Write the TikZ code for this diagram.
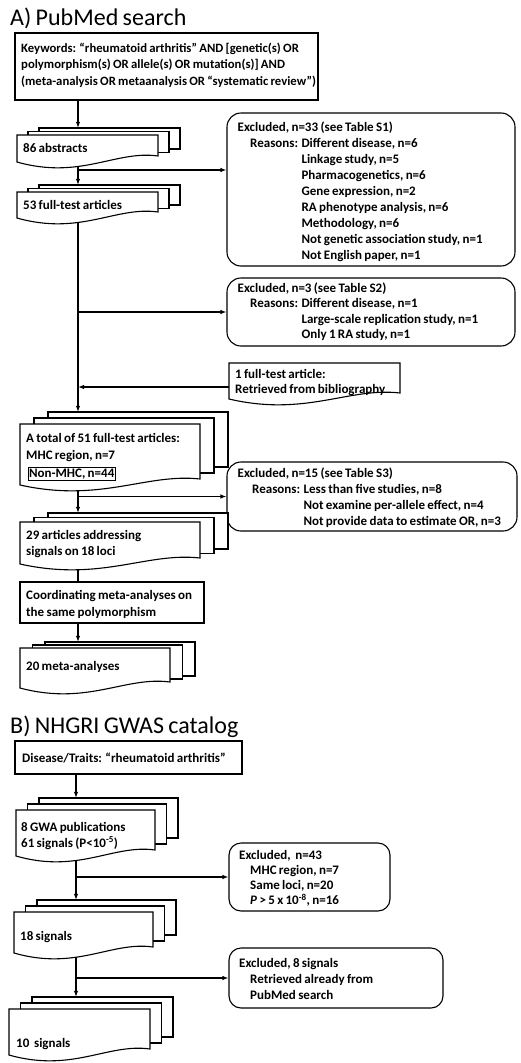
\documentclass[tikz,border=0pt]{standalone}
\usepackage{fontspec}
\setmainfont{Carlito}[WordSpace=0.8]
\usetikzlibrary{arrows.meta,fit,backgrounds}
\tikzset{
  ln/.style={line width=1.1pt, draw=black},
  sheet/.style={ln, fill=white},
  arr/.style={ln, -{Latex[length=6pt,width=4.5pt]}},
  plainbox/.style={ln, fill=white, inner sep=0pt},
  exbox/.style={ln, fill=white, inner sep=0pt, rounded corners=14pt},
  area/.style={inner sep=0pt},
  txt/.style={anchor=base west, inner sep=0pt, font=\bfseries\fontsize{13}{16}\selectfont},
  ttl/.style={anchor=base west, inner sep=0pt, font=\fontsize{24}{28}\selectfont},
  hl/.style={ln, line width=0.8pt, inner sep=1.2pt, anchor=base west, font=\bfseries\fontsize{13}{16}\selectfont},
}
% front sheet with wavy bottom: #1 name, #2 L, #3 T, #4 R, #5 B
\newcommand{\docfront}[5]{%
  \draw[sheet] (#2,#3) -- (#4,#3) -- (#4,{#5-6})
    .. controls ({#2+0.7*(#4-#2)},{#5-12}) and ({#2+0.45*(#4-#2)},{#5+18}) .. (#2,#5) -- cycle;
  \node[area, fit={(#2,#3) (#4,#5)}] (#1) {};
}
% stack of three sheets: #1 name, #2 L, #3 T, #4 R, #5 B, #6 dx, #7 dy
\newcommand{\docstack}[7]{%
  \draw[sheet] ({#2+2*#6},{#3-2*#7}) rectangle ({#4+2*#6},{#5-2*#7-6});
  \node[area, fit={({#2+2*#6},{#3-2*#7}) ({#4+2*#6},{#5-2*#7-6})}] (#1-back) {};
  \draw[sheet] ({#2+#6},{#3-#7}) rectangle ({#4+#6},{#5-#7-6});
  \docfront{#1}{#2}{#3}{#4}{#5}
}
\begin{document}
\begin{tikzpicture}[x=1pt,y=-1pt]
\useasboundingbox (0,0) rectangle (520,1063);
\coordinate (mA) at (78,0);
\coordinate (mB) at (76,0);

% ---------------- A) PubMed search ----------------
\node[ttl] (titleA) at (10,25.5) {A) PubMed search};

\node[plainbox, fit={(15,33) (318,100)}] (kw) {};
\node[txt] (kwtext) at (21,52) {\fontsize{12.7}{16.5}\selectfont\begin{tabular}[t]{@{}l@{}}%
Keywords: “rheumatoid arthritis” AND [genetic(s) OR\\
polymorphism(s) OR allele(s) OR mutation(s)] AND\\
(meta-analysis OR metaanalysis OR “systematic review”)\end{tabular}};

\docstack{S1}{17}{135}{158}{162}{11}{3.5}
\node[txt] (S1text) at (23,152.5) {86 abstracts};

\docstack{S2}{17}{192}{158}{218}{11}{3.5}
\node[txt] (S2text) at (23,209.5) {53 full-test articles};

\node[exbox, fit={(227,113) (515,266)}] (ex1) {};
\node[txt] (ex1head) at (237.5,131.5) {Excluded, n=33 (see Table S1)};
\node[txt] (ex1body) at (250,147.5) {\begin{tabular}[t]{@{}l@{ }l@{}}%
Reasons: & Different disease, n=6\\
 & Linkage study, n=5\\
 & Pharmacogenetics, n=6\\
 & Gene expression, n=2\\
 & RA phenotype analysis, n=6\\
 & Methodology, n=6\\
 & Not genetic association study, n=1\\
 & Not English paper, n=1\end{tabular}};

\node[exbox, fit={(227,278) (515,346)}] (ex2) {};
\node[txt] (ex2head) at (237.5,292) {Excluded, n=3 (see Table S2)};
\node[txt] (ex2body) at (250,307.5) {\fontsize{13}{15.5}\selectfont\begin{tabular}[t]{@{}l@{ }l@{}}%
Reasons: & Different disease, n=1\\
 & Large-scale replication study, n=1\\
 & Only 1 RA study, n=1\end{tabular}};

\docfront{box3}{229}{363}{400}{399}
\node[txt] (box3text) at (235,378.5) {\fontsize{13}{15}\selectfont\begin{tabular}[t]{@{}l@{}}%
1 full-test article:\\ Retrieved from bibliography\end{tabular}};

\docstack{S3}{20}{424}{200}{485}{14}{6}
\node[txt] (S3text) at (26,442.5) {\fontsize{13}{17}\selectfont\begin{tabular}[t]{@{}l@{}}%
A total of 51 full-test articles:\\ MHC region, n=7\end{tabular}};
\node[hl] (nonmhc) at (27.5,477) {Non-MHC, n=44};

\node[exbox, fit={(227,462) (517,531)}] (ex4) {};
\node[txt] (ex4head) at (237.5,477.5) {Excluded, n=15 (see Table S3)};
\node[txt] (ex4body) at (252,493.5) {\begin{tabular}[t]{@{}l@{ }l@{}}%
Reasons: & Less than five studies, n=8\\
 & Not examine per-allele effect, n=4\\
 & Not provide data to estimate OR, n=3\end{tabular}};

\docstack{S4}{20}{522}{200}{564}{14}{4.5}
\node[txt] (S4text) at (26,539.5) {\begin{tabular}[t]{@{}l@{}}%
29 articles addressing\\ signals on 18 loci\end{tabular}};

\node[plainbox, fit={(20,582) (204,623)}] (box5) {};
\node[txt] (box5text) at (26,599.5) {\fontsize{13}{16.5}\selectfont\begin{tabular}[t]{@{}l@{}}%
Coordinating meta-analyses on\\ the same polymorphism\end{tabular}};

\docstack{S5}{20}{648}{170}{688}{12.5}{3}
\node[txt] (S5text) at (26,670.5) {20 meta-analyses};

% ---------------- B) NHGRI GWAS catalog ----------------
\node[ttl] (titleB) at (10,733) {B) NHGRI GWAS catalog};

\node[plainbox, fit={(15,741) (242,774)}] (box6) {};
\node[txt] (box6text) at (22,762.5) {Disease/Traits: “rheumatoid arthritis”};

\docstack{S6}{16}{810}{155}{856}{11.5}{6}
\node[txt] (S6text) at (21,831.5) {\fontsize{13}{15.5}\selectfont\begin{tabular}[t]{@{}l@{}}%
8 GWA publications\\ 61 signals (P<10\textsuperscript{-5})\end{tabular}};

\node[exbox, rounded corners=12pt, fit={(229,843) (390,911)}] (ex7) {};
\node[txt] (ex7head) at (239,859) {Excluded,\ \ n=43};
\node[txt] (ex7body) at (250,874.5) {\fontsize{13}{15}\selectfont\begin{tabular}[t]{@{}l@{}}%
MHC region, n=7\\ Same loci, n=20\\ \textit{P} > 5 x 10\textsuperscript{-8}, n=16\end{tabular}};

\docstack{S7}{14}{912}{153}{953}{11.5}{6}
\node[txt] (S7text) at (20,940.5) {18 signals};

\node[exbox, rounded corners=12pt, fit={(229,948) (443,1008)}] (ex8) {};
\node[txt] (ex8head) at (239,967) {Excluded, 8 signals};
\node[txt] (ex8body) at (250,983.5) {\fontsize{13}{16}\selectfont\begin{tabular}[t]{@{}l@{}}%
Retrieved already from\\ PubMed search\end{tabular}};

\docstack{S8}{9}{1009}{150}{1055}{11.5}{6}
\node[txt] (S8text) at (16,1047.5) {10\ \ signals};

% ---------------- connectors ----------------
\begin{pgfonlayer}{background}
\coordinate (b1) at (78,170);
\draw[arr] (kw.south -| mA) -- (S1-back.north -| mA);
\draw[arr] (S1.south -| mA) -- (S2-back.north -| mA);
\draw[arr] (b1) -- (b1 -| ex1.west);
\draw[arr] (S2.south -| mA) -- (S3-back.north -| mA);
\draw[arr] (ex2.west -| mA) -- (ex2.west);
\coordinate (b3) at ([yshift=-6pt]box3.west);
\draw[arr] (b3) -- (b3 -| mA);
\draw[arr] (S3.south -| mA) -- (S4-back.north -| mA);
\draw[arr] (ex4.west -| mA) -- (ex4.west);
\draw[ln] (S4.south -| mA) -- (box5.north -| mA);
\draw[arr] (box5.south -| mA) -- (S5-back.north -| mA);

\draw[arr] (box6.south -| mB) -- (S6-back.north -| mB);
\draw[arr] (S6.south -| mB) -- (S7-back.north -| mB);
\draw[arr] (ex7.west -| mB) -- (ex7.west);
\draw[arr] (S7.south -| mB) -- (S8-back.north -| mB);
\draw[arr] (ex8.west -| mB) -- (ex8.west);
\end{pgfonlayer}
\end{tikzpicture}
\end{document}
